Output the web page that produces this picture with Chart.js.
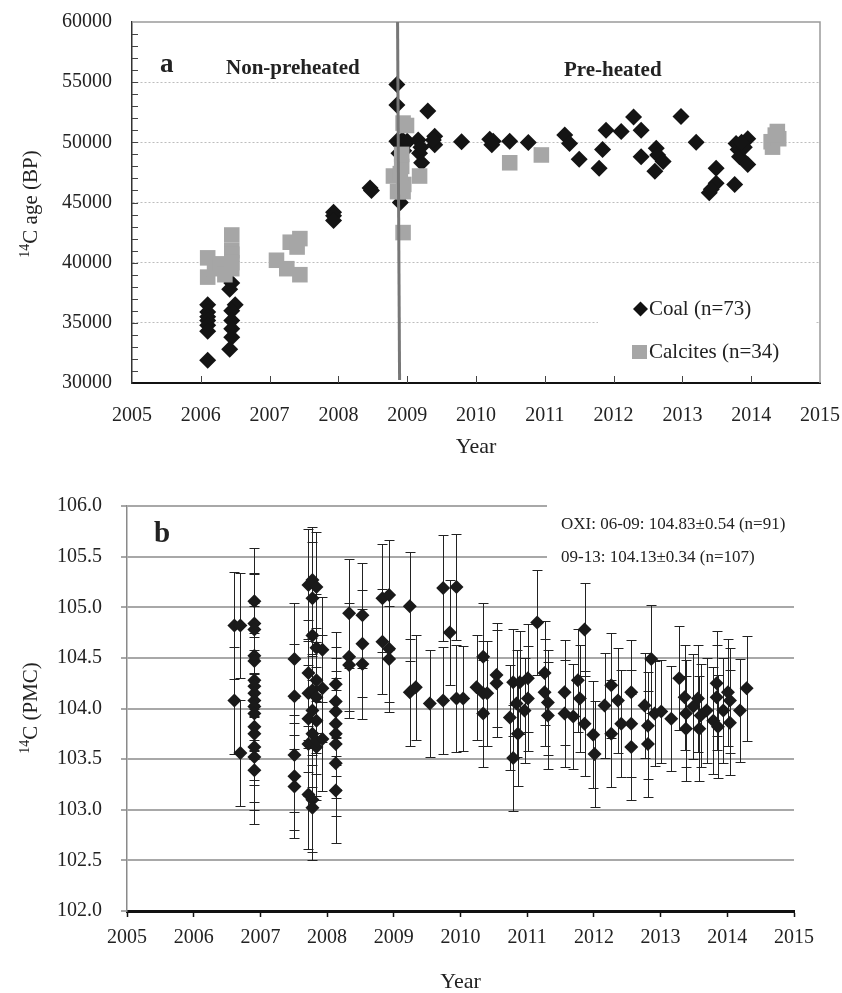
<!DOCTYPE html>
<html>
<head>
<meta charset="utf-8">
<title>14C age and OXI PMC</title>
<script src="https://cdn.jsdelivr.net/npm/chart.js@4.4.1/dist/chart.umd.min.js"></script>
<style>
    html, body { margin: 0; padding: 0; background: #fff; }
    #chartA { position: absolute; left: 0; top: 0; }
    #chartB { position: absolute; left: 0; top: 460px; }
</style>
</head>
<body>
<canvas id="chartA" width="842" height="460"></canvas>
<canvas id="chartB" width="842" height="533"></canvas>
<script>
const SERIF = "'Liberation Serif', 'Times New Roman', serif";

// ---- Panel a: 14C age of coal and calcite blanks ----
const coalYears = [
    2006.10, 2006.10, 2006.10, 2006.10, 2006.10, 2006.10, 2006.10,
    2006.45, 2006.42, 2006.50, 2006.45, 2006.45, 2006.45, 2006.45, 2006.42,
    2007.93, 2007.93, 2007.93, 2008.46, 2008.48,
    2008.85, 2008.85, 2008.85, 2008.88, 2008.90, 2008.93, 2008.95, 2008.88, 2008.90, 2008.98, 2009.00,
    2009.16, 2009.18, 2009.21, 2009.20, 2009.30, 2009.40, 2009.40, 2009.38,
    2009.79, 2010.20, 2010.23, 2010.25, 2010.49, 2010.76,
    2011.29, 2011.36, 2011.50, 2011.79, 2011.84, 2011.89,
    2012.11, 2012.29, 2012.40, 2012.40, 2012.62, 2012.64, 2012.72, 2012.60, 2012.98,
    2013.20, 2013.39, 2013.49, 2013.49, 2013.42, 2013.76, 2013.78, 2013.81, 2013.83,
    2013.95, 2013.95, 2013.90, 2013.86
];
const coalAges = [
    36500, 35900, 35500, 35200, 34800, 34300, 31900,
    38300, 37800, 36500, 36000, 35200, 34500, 33800, 32800,
    44200, 43900, 43500, 46200, 46000,
    54800, 53100, 50100, 49900, 50000, 50200, 49300, 49100, 45000, 49900, 50100,
    50200, 49100, 48300, 49600, 52600, 50500, 49800, 50200,
    50050, 50250, 49800, 50100, 50100, 49980,
    50600, 49900, 48600, 47850, 49400, 51000,
    50900, 52100, 51000, 48800, 49500, 48950, 48400, 47600, 52150,
    50000, 45800, 47850, 46600, 46100, 46500, 49900, 49400, 48800,
    50300, 48150, 49600, 50000
];
const calciteYears = [
    2006.10, 2006.10, 2006.20, 2006.28, 2006.35, 2006.45, 2006.45, 2006.45, 2006.45, 2006.45,
    2007.10, 2007.25, 2007.30, 2007.44, 2007.40, 2007.44,
    2008.80, 2008.86, 2008.92, 2008.94, 2008.99, 2008.94, 2008.94, 2008.92, 2008.95, 2009.18, 2008.90,
    2010.49, 2010.95,
    2014.29, 2014.38, 2014.31, 2014.40, 2014.35
];
const calciteAges = [
    40400, 38800, 39500, 39900, 39000, 42300, 41000, 40700, 40000, 39500,
    40200, 39500, 41700, 42000, 41300, 39000,
    47200, 45900, 48000, 51600, 51400, 45900, 42500, 49000, 46500, 47200, 47400,
    48300, 48950,
    50050, 50900, 49600, 50300, 50600
];
const SPLIT_YEAR = 2008.86;   // switch from non-preheated to pre-heated
const ageTicks = [30000, 35000, 40000, 45000, 50000, 55000, 60000];

// ---- Panel b: OXI standard, percent modern carbon ----
const oxiYears = [
    2006.61, 2006.70, 2006.61, 2006.70,
    2006.91, 2006.91, 2006.91, 2006.91, 2006.91, 2006.91, 2006.91, 2006.91,
    2006.91, 2006.91, 2006.91, 2006.91, 2006.91, 2006.91, 2006.91, 2006.91,
    2007.51, 2007.51, 2007.51, 2007.51, 2007.51,
    2007.72, 2007.72, 2007.72, 2007.72, 2007.72, 2007.72,
    2007.78, 2007.78, 2007.78, 2007.78, 2007.78, 2007.78, 2007.78, 2007.78,
    2007.84, 2007.84, 2007.84, 2007.84, 2007.84, 2007.84, 2007.84,
    2007.93, 2007.93, 2007.93,
    2008.13, 2008.13, 2008.13, 2008.13, 2008.13, 2008.13, 2008.13, 2008.13,
    2008.33, 2008.33, 2008.33, 2008.53, 2008.53, 2008.53,
    2008.83, 2008.83, 2008.93, 2008.93, 2008.93,
    2009.24, 2009.24, 2009.33, 2009.54, 2009.74, 2009.74, 2009.84, 2009.94, 2009.94,
    2010.04, 2010.24, 2010.34, 2010.34, 2010.34, 2010.40, 2010.54, 2010.54,
    2010.74, 2010.79, 2010.79, 2010.84, 2010.86, 2010.89, 2010.96, 2011.01, 2011.01,
    2011.15, 2011.26, 2011.26, 2011.31, 2011.31, 2011.56, 2011.56, 2011.69, 2011.76,
    2011.79, 2011.86, 2011.86, 2011.99, 2012.01, 2012.16, 2012.26, 2012.26, 2012.36,
    2012.41, 2012.56, 2012.56, 2012.56, 2012.76, 2012.81, 2012.81, 2012.86, 2012.91,
    2013.01, 2013.16, 2013.28, 2013.36, 2013.38, 2013.38, 2013.49, 2013.56, 2013.58,
    2013.60, 2013.69, 2013.79, 2013.84, 2013.84, 2013.86, 2013.94, 2014.01, 2014.04,
    2014.04, 2014.19, 2014.29
];
const oxiPmc = [
    104.82, 104.82, 104.08, 103.56,
    105.06, 104.84, 104.78, 104.52, 104.47, 104.28, 104.22, 104.15,
    104.08, 104.02, 103.95, 103.82, 103.75, 103.62, 103.52, 103.39,
    104.49, 104.12, 103.54, 103.33, 103.23,
    105.22, 104.35, 104.15, 103.90, 103.65, 103.15,
    105.27, 105.09, 104.72, 104.18, 103.98, 103.75, 103.10, 103.02,
    105.20, 104.60, 104.28, 104.11, 103.88, 103.62, 103.68,
    104.58, 104.20, 103.70,
    104.24, 104.07, 103.97, 103.85, 103.75, 103.65, 103.46, 103.19,
    104.94, 104.51, 104.43, 104.92, 104.64, 104.44,
    105.09, 104.66, 105.12, 104.59, 104.49,
    105.01, 104.16, 104.21, 104.05, 105.19, 104.08, 104.75, 105.20, 104.10,
    104.10, 104.21, 104.51, 104.15, 103.95, 104.15, 104.33, 104.25,
    103.91, 104.26, 103.51, 104.05, 103.75, 104.26, 103.98, 104.30, 104.10,
    104.85, 104.35, 104.16, 104.06, 103.93, 104.16, 103.95, 103.92, 104.28,
    104.10, 104.78, 103.85, 103.74, 103.55, 104.03, 104.23, 103.75, 104.08,
    103.85, 104.16, 103.85, 103.62, 104.03, 103.83, 103.65, 104.49, 103.95,
    103.97, 103.90, 104.30, 104.11, 103.95, 103.80, 104.02, 104.10, 103.80,
    103.93, 103.98, 103.88, 104.25, 104.11, 103.82, 103.98, 104.16, 104.08,
    103.86, 103.98, 104.20
];
const oxiErr = [
    0.53, 0.52, 0.53, 0.52,
    0.53, 0.50, 0.55, 0.52, 0.54, 0.51, 0.53, 0.56,
    0.50, 0.52, 0.55, 0.53, 0.51, 0.54, 0.52, 0.53,
    0.55, 0.52, 0.56, 0.53, 0.51,
    0.55, 0.52, 0.54, 0.53, 0.51, 0.54,
    0.52, 0.55, 0.53, 0.52, 0.54, 0.53, 0.52, 0.52,
    0.54, 0.53, 0.52, 0.55, 0.53, 0.52, 0.54,
    0.52, 0.53, 0.51,
    0.52, 0.54, 0.53, 0.52, 0.55, 0.53, 0.52, 0.52,
    0.54, 0.53, 0.52, 0.52, 0.53, 0.54,
    0.53, 0.52, 0.54, 0.53, 0.52,
    0.54, 0.53, 0.52, 0.53, 0.52, 0.53, 0.52, 0.52, 0.53,
    0.52, 0.52, 0.53, 0.52, 0.53, 0.52, 0.51, 0.53,
    0.52, 0.53, 0.52, 0.53, 0.52, 0.51, 0.52, 0.53, 0.52,
    0.52, 0.51, 0.53, 0.52, 0.53, 0.52, 0.53, 0.52, 0.51,
    0.53, 0.46, 0.52, 0.53, 0.52, 0.52, 0.52, 0.53, 0.52,
    0.53, 0.52, 0.53, 0.52, 0.52, 0.53, 0.52, 0.53, 0.52,
    0.51, 0.52, 0.51, 0.52, 0.53, 0.52, 0.52, 0.53, 0.52,
    0.51, 0.52, 0.53, 0.52, 0.52, 0.51, 0.52, 0.53, 0.52,
    0.52, 0.51, 0.52
];
const oxiNotes = [
    'OXI: 06-09: 104.83\u00b10.54 (n=91)',
    '09-13: 104.13\u00b10.34 (n=107)'
];

function toPoints(xs, ys) {
    return xs.map((x, i) => ({ x: x, y: ys[i] }));
}

// Rotated axis title with a superscript prefix (e.g. 14C)
function drawRotatedTitle(ctx, cx, cy, sup, main, size) {
    const supFont = Math.round(size * 0.65) + 'px ' + SERIF;
    const mainFont = size + 'px ' + SERIF;
    ctx.save();
    ctx.translate(cx, cy);
    ctx.rotate(-Math.PI / 2);
    ctx.font = supFont;
    const ws = ctx.measureText(sup).width;
    ctx.font = mainFont;
    const wm = ctx.measureText(main).width;
    const x0 = -(ws + wm) / 2;
    const base = size * 0.33;
    ctx.fillStyle = '#222';
    ctx.textBaseline = 'alphabetic';
    ctx.textAlign = 'left';
    ctx.font = supFont;
    ctx.fillText(sup, x0, base - size * 0.38);
    ctx.font = mainFont;
    ctx.fillText(main, x0 + ws, base);
    ctx.restore();
}

// Keep the plot area where the layout padding puts it
function fixHorizontal(height) {
    return s => { s.height = height; s.paddingLeft = 0; s.paddingRight = 0; };
}
function fixVertical(width) {
    return s => { s.width = width; s.paddingTop = 0; s.paddingBottom = 0; };
}

const panelADecor = {
    id: 'panelADecor',
    beforeDatasetsDraw(chart) {
        const { ctx, chartArea: a, scales: { x, y } } = chart;
        ctx.save();
        // frame on top and right
        ctx.strokeStyle = '#9a9a9a';
        ctx.lineWidth = 1.5;
        ctx.beginPath();
        ctx.moveTo(a.left, a.top);
        ctx.lineTo(a.right, a.top);
        ctx.lineTo(a.right, a.bottom);
        ctx.stroke();
        // minor ticks every 1000 years, pointing inward
        ctx.strokeStyle = '#444';
        ctx.lineWidth = 1;
        for (let v = ageTicks[0] + 1000; v < ageTicks[ageTicks.length - 1]; v += 1000) {
            const py = Math.round(y.getPixelForValue(v)) + 0.5;
            ctx.beginPath();
            ctx.moveTo(a.left, py);
            ctx.lineTo(a.left + 6, py);
            ctx.stroke();
        }
        for (let yr = 2006; yr < 2015; yr++) {
            const px = Math.round(x.getPixelForValue(yr)) + 0.5;
            ctx.beginPath();
            ctx.moveTo(px, a.bottom);
            ctx.lineTo(px, a.bottom - 7);
            ctx.stroke();
        }
        // legend background hides the grid line
        ctx.fillStyle = '#fff';
        ctx.fillRect(598, 290, 217, 82);
        ctx.restore();
    },
    afterDatasetsDraw(chart) {
        const { ctx, chartArea: a, scales: { x } } = chart;
        ctx.save();
        // non-preheated / pre-heated boundary
        const sx = x.getPixelForValue(SPLIT_YEAR);
        ctx.strokeStyle = '#777';
        ctx.lineWidth = 3;
        ctx.beginPath();
        ctx.moveTo(sx, a.top);
        ctx.lineTo(sx + 2, a.bottom - 3);
        ctx.stroke();

        // legend
        ctx.fillStyle = '#111';
        ctx.beginPath();
        ctx.moveTo(633, 309);
        ctx.lineTo(640.5, 301.5);
        ctx.lineTo(648, 309);
        ctx.lineTo(640.5, 316.5);
        ctx.closePath();
        ctx.fill();
        ctx.fillStyle = '#a6a6a6';
        ctx.fillRect(632, 345, 15, 14);
        ctx.fillStyle = '#222';
        ctx.font = '21px ' + SERIF;
        ctx.textBaseline = 'middle';
        ctx.textAlign = 'left';
        ctx.fillText('Coal (n=73)', 649, 309);
        ctx.fillText('Calcites (n=34)', 649, 352);

        // panel labels
        ctx.textBaseline = 'alphabetic';
        ctx.font = 'bold 27px ' + SERIF;
        ctx.fillText('a', 160, 72);
        ctx.font = 'bold 21px ' + SERIF;
        ctx.fillText('Non-preheated', 226, 74);
        ctx.fillText('Pre-heated', 564, 76);
        ctx.restore();

        drawRotatedTitle(ctx, 30, 204, '14', 'C age (BP)', 21);
    }
};

const panelBDecor = {
    id: 'panelBDecor',
    beforeDatasetsDraw(chart) {
        const { ctx, scales: { x, y } } = chart;
        ctx.save();
        // white box behind the OXI note
        ctx.fillStyle = '#fff';
        ctx.fillRect(547, 37, 260, 78);
        // error bars
        ctx.strokeStyle = '#222';
        ctx.lineWidth = 1;
        oxiYears.forEach((yr, i) => {
            const px = Math.round(x.getPixelForValue(yr)) + 0.5;
            const top = Math.round(y.getPixelForValue(oxiPmc[i] + oxiErr[i])) + 0.5;
            const bot = Math.round(y.getPixelForValue(oxiPmc[i] - oxiErr[i])) + 0.5;
            ctx.beginPath();
            ctx.moveTo(px, top);
            ctx.lineTo(px, bot);
            ctx.moveTo(px - 5, top);
            ctx.lineTo(px + 5, top);
            ctx.moveTo(px - 5, bot);
            ctx.lineTo(px + 5, bot);
            ctx.stroke();
        });
        ctx.restore();
    },
    afterDatasetsDraw(chart) {
        const { ctx } = chart;
        ctx.save();
        ctx.fillStyle = '#222';
        ctx.textAlign = 'left';
        ctx.textBaseline = 'middle';
        ctx.font = '17px ' + SERIF;
        ctx.fillText(oxiNotes[0], 561, 65);
        ctx.fillText(oxiNotes[1], 561, 98);
        ctx.textBaseline = 'alphabetic';
        ctx.font = 'bold 29px ' + SERIF;
        ctx.fillText('b', 154, 82);
        ctx.restore();

        drawRotatedTitle(ctx, 30, 248, '14', 'C (PMC)', 21);
    }
};

function createAgeChart() {
    const ctx = document.getElementById('chartA').getContext('2d');
    new Chart(ctx, {
        type: 'scatter',
        data: {
            datasets: [
                {
                    label: 'Calcites (n=34)',
                    data: toPoints(calciteYears, calciteAges),
                    pointStyle: 'rect',
                    pointRadius: 11,
                    backgroundColor: '#a6a6a6',
                    borderColor: '#a6a6a6',
                    borderWidth: 0
                },
                {
                    label: 'Coal (n=73)',
                    data: toPoints(coalYears, coalAges),
                    pointStyle: 'rectRot',
                    pointRadius: 8.5,
                    backgroundColor: '#141414',
                    borderColor: '#141414',
                    borderWidth: 0
                }
            ]
        },
        options: {
            responsive: false,
            animation: false,
            layout: { autoPadding: false, padding: { left: 0, top: 22, right: 22, bottom: 0 } },
            plugins: {
                legend: { display: false },
                tooltip: { enabled: false }
            },
            scales: {
                x: {
                    type: 'linear',
                    min: 2005,
                    max: 2015,
                    afterFit: fixHorizontal(77),
                    ticks: {
                        stepSize: 1,
                        padding: 13,
                        color: '#222',
                        font: { family: SERIF, size: 20 },
                        callback: v => String(v)
                    },
                    grid: { display: false },
                    border: { color: '#111', width: 2 },
                    title: {
                        display: true,
                        text: 'Year',
                        color: '#222',
                        font: { family: SERIF, size: 22, lineHeight: 1 },
                        padding: { top: 0, bottom: 2 }
                    }
                },
                y: {
                    min: ageTicks[0],
                    max: ageTicks[ageTicks.length - 1],
                    afterFit: fixVertical(132),
                    afterBuildTicks: s => { s.ticks = ageTicks.map(v => ({ value: v })); },
                    ticks: {
                        padding: 20,
                        color: '#222',
                        font: { family: SERIF, size: 20 },
                        callback: v => String(v)
                    },
                    grid: {
                        drawTicks: false,
                        lineWidth: 1,
                        color: c => (c.tick && (c.tick.value === 30000 || c.tick.value === 60000)) ? 'rgba(0,0,0,0)' : '#bdbdbd'
                    },
                    border: { color: '#333', width: 1.5, dash: [2, 2] }
                }
            }
        },
        plugins: [panelADecor]
    });
}

function createPmcChart() {
    const ctx = document.getElementById('chartB').getContext('2d');
    new Chart(ctx, {
        type: 'scatter',
        data: {
            datasets: [{
                label: 'OXI',
                data: toPoints(oxiYears, oxiPmc),
                pointStyle: 'rectRot',
                pointRadius: 7,
                backgroundColor: '#1a1a1a',
                borderColor: '#1a1a1a',
                borderWidth: 0
            }]
        },
        options: {
            responsive: false,
            animation: false,
            layout: { autoPadding: false, padding: { left: 0, top: 46, right: 48, bottom: 0 } },
            plugins: {
                legend: { display: false },
                tooltip: { enabled: false }
            },
            scales: {
                x: {
                    type: 'linear',
                    min: 2005,
                    max: 2015,
                    afterFit: fixHorizontal(82),
                    ticks: {
                        stepSize: 1,
                        padding: 9,
                        color: '#222',
                        font: { family: SERIF, size: 20 },
                        callback: v => String(v)
                    },
                    grid: {
                        drawOnChartArea: false,
                        drawTicks: true,
                        tickLength: 6,
                        tickColor: '#111',
                        tickWidth: 1.5
                    },
                    border: { color: '#111', width: 3 },
                    title: {
                        display: true,
                        text: 'Year',
                        color: '#222',
                        font: { family: SERIF, size: 22, lineHeight: 1 },
                        padding: { top: 0, bottom: 0 }
                    }
                },
                y: {
                    min: 102,
                    max: 106,
                    afterFit: fixVertical(127),
                    ticks: {
                        stepSize: 0.5,
                        padding: 19,
                        color: '#222',
                        font: { family: SERIF, size: 20 },
                        callback: v => v.toFixed(1)
                    },
                    grid: {
                        color: '#a8a8a8',
                        lineWidth: 2,
                        drawTicks: true,
                        tickLength: 6,
                        tickColor: '#8a8a8a',
                        tickWidth: 1.5
                    },
                    border: { color: '#8a8a8a', width: 1.5 }
                }
            }
        },
        plugins: [panelBDecor]
    });
}

createAgeChart();
createPmcChart();
</script>
</body>
</html>
